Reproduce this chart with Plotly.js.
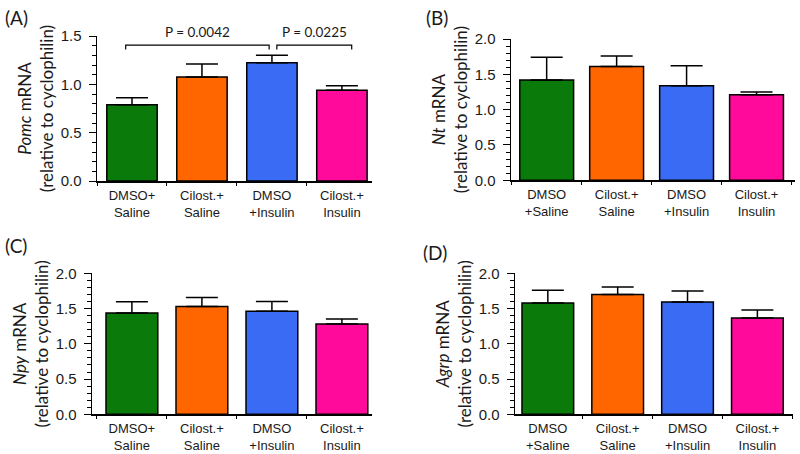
<!DOCTYPE html>
<html>
<head>
<meta charset="utf-8">
<script src="https://cdn.plot.ly/plotly-3.0.1.min.js"></script>
<style>html,body{margin:0;padding:0;background:#fff;}#chart{width:800px;height:454px;}</style>
</head>
<body>
<div id="chart"></div>
<script>
// ---- data ----
const groupsAC = ['DMSO+<br>Saline', 'Cilost.+<br>Saline', 'DMSO<br>+Insulin', 'Cilost.+<br>Insulin'];
const groupsBD = ['DMSO<br>+Saline', 'Cilost.+<br>Saline', 'DMSO<br>+Insulin', 'Cilost.+<br>Insulin'];
const barColors = ['#0a7a0a', '#ff6600', '#3a6bf5', '#ff0a9a'];

const pomcMean = [0.79, 1.075, 1.223, 0.94];
const pomcSem  = [0.07, 0.135, 0.077, 0.045];
const ntMean   = [1.42, 1.61, 1.34, 1.21];
const ntSem    = [0.32, 0.15, 0.28, 0.04];
const npyMean  = [1.437, 1.53, 1.46, 1.28];
const npySem   = [0.16, 0.125, 0.14, 0.07];
const agrpMean = [1.58, 1.70, 1.593, 1.366];
const agrpSem  = [0.18, 0.105, 0.157, 0.114];

const panelLabels = ['(A)', '(B)', '(C)', '(D)'];
const geneNames = ['Pomc', 'Nt', 'Npy', 'Agrp'];

// significance brackets for panel A
const bracketLeft  = [-0.09, 2.07];
const bracketRight = [1.96, 3.14];
const bracketLevel = [1.406, 1.406];
const bracketLabel = ['P = 0.0042', 'P = 0.0225'];

// ---- layout helpers ----
const W = 800, H = 454;
const panels = [
  {mean: pomcMean, sem: pomcSem, cats: groupsAC, x0: 97,  x1: 372, yb: 181,   yt: 36,  ymax: 1.5, xr: [-0.5, 3.43], bw: 0.72},
  {mean: ntMean,   sem: ntSem,   cats: groupsBD, x0: 511, x1: 795, yb: 180.3, yt: 39,  ymax: 2.0, xr: [-0.51, 3.55], bw: 0.77},
  {mean: npyMean,  sem: npySem,  cats: groupsAC, x0: 92,  x1: 372, yb: 414.3, yt: 273.3, ymax: 2.0, xr: [-0.57, 3.43], bw: 0.74},
  {mean: agrpMean, sem: agrpSem, cats: groupsBD, x0: 515, x1: 793, yb: 414.3, yt: 273.3, ymax: 2.0, xr: [-0.47, 3.51], bw: 0.74}
];
const labelPos = [[3, 4], [424, 4], [3, 232], [421, 239]];

const xTickFont = {family: '"Liberation Sans", Arial, sans-serif', size: 13, color: '#1a1a1a'};
const yTickFont = {family: '"Liberation Sans", Arial, sans-serif', size: 15, color: '#1a1a1a'};
const titleFamily = 'Lato, "Open Sans", sans-serif';
const titleFont = {family: titleFamily, size: 17, color: '#1a1a1a'};

const traces = [];
const layout = {
  width: W, height: H,
  margin: {l: 0, r: 0, t: 0, b: 0},
  paper_bgcolor: '#fff', plot_bgcolor: '#fff',
  showlegend: false,
  annotations: [], shapes: []
};

panels.forEach((p, i) => {
  const n = i === 0 ? '' : String(i + 1);
  traces.push({
    type: 'bar', x: p.cats, y: p.mean,
    xaxis: 'x' + n, yaxis: 'y' + n,
    width: p.bw,
    marker: {color: barColors, line: {color: '#000', width: 1.5}},
    error_y: {type: 'data', symmetric: false, array: p.sem, arrayminus: p.mean.map(() => 0),
              color: '#000', thickness: 1.5, width: 16},
    hoverinfo: 'x+y'
  });
  layout['xaxis' + n] = {
    domain: [p.x0 / W, p.x1 / W], anchor: 'y' + n,
    type: 'category', range: p.xr, fixedrange: true,
    showline: true, linecolor: '#000', linewidth: 1.5,
    ticks: 'outside', tickson: 'boundaries', ticklen: 3, tickcolor: '#000',
    ticklabelstandoff: 2,
    showgrid: false, zeroline: false, tickfont: xTickFont
  };
  layout['yaxis' + n] = {
    domain: [1 - p.yb / H, 1 - p.yt / H], anchor: 'x' + n,
    range: [0, p.ymax], dtick: 0.5, tickformat: '.1f',
    showline: true, linecolor: '#000', linewidth: 1.5,
    ticks: 'outside', ticklen: 7, tickcolor: '#000', tickwidth: 1,
    ticklabelstandoff: 4,
    minor: {dtick: 0.1, ticks: 'outside', ticklen: 4, tickcolor: '#000', tickwidth: 1, showgrid: false},
    showgrid: false, zeroline: false, tickfont: yTickFont,
    title: {text: '<i>' + geneNames[i] + '</i> mRNA<br>(relative to cyclophilin)', font: titleFont, standoff: 2}
  };
  layout.annotations.push({
    xref: 'paper', yref: 'paper', x: labelPos[i][0] / W, y: 1 - labelPos[i][1] / H,
    xanchor: 'left', yanchor: 'top', showarrow: false,
    text: panelLabels[i], font: {family: titleFamily, size: 19, color: '#1a1a1a'}
  });
});

bracketLabel.forEach((lab, k) => {
  const l = bracketLeft[k], r = bracketRight[k], y = bracketLevel[k];
  layout.shapes.push({
    type: 'path', xref: 'x', yref: 'y',
    path: 'M' + l + ',' + (y - 0.045) + ' L' + l + ',' + y + ' L' + r + ',' + y + ' L' + r + ',' + (y - 0.045),
    line: {color: '#000', width: 1.2}
  });
  layout.annotations.push({
    xref: 'x', yref: 'y', x: (l + r) / 2, y: y,
    xanchor: 'center', yanchor: 'bottom', yshift: 3, showarrow: false,
    text: lab, font: {family: titleFamily, size: 13.5, color: '#1a1a1a'}
  });
});

Plotly.newPlot('chart', traces, layout, {displayModeBar: false, staticPlot: true});
</script>
</body>
</html>
